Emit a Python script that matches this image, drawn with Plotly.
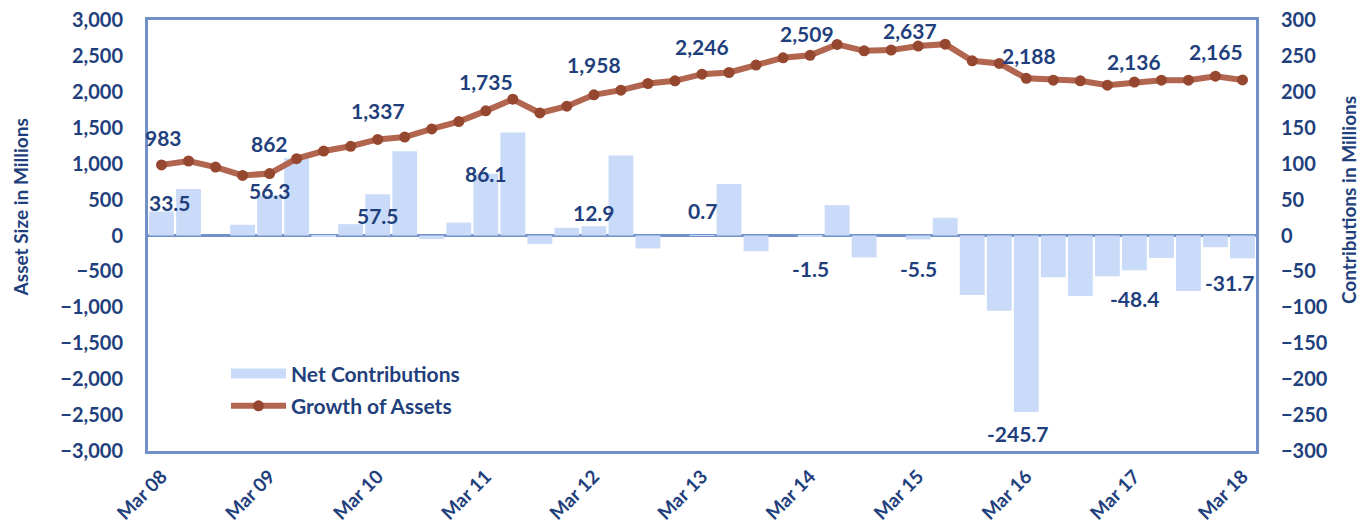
import plotly.graph_objects as go

years = ["08", "09", "10", "11", "12", "13", "14", "15", "16", "17", "18"]
months = ["Mar", "Jun", "Sep", "Dec"]
quarters = []
for y in years:
    for m in months:
        quarters.append(f"{m} {y}")
quarters = quarters[:41]

asset_size = [983, 1037, 953, 837, 862, 1070, 1176, 1242, 1337, 1371, 1483, 1586,
              1735, 1897, 1706, 1800, 1958, 2023, 2116, 2153, 2246, 2269, 2372, 2474,
              2509, 2660, 2571, 2581, 2637, 2664, 2432, 2395, 2188, 2162, 2153, 2093,
              2136, 2162, 2162, 2218, 2165]

net_contrib = [33.5, 64.6, 0.0, 14.9, 56.3, 107.4, -2.0, 15.8, 57.5, 117.2, -5.0, 18.0,
               86.1, 143.3, -12.0, 10.7, 12.9, 111.2, -18.0, 0.0, 0.7, 71.6, -21.9, 0.0,
               -1.5, 42.3, -30.5, 0.0, -5.5, 24.7, -82.8, -104.6, -245.7, -58.1, -84.2, -56.7,
               -48.4, -31.2, -77.2, -16.3, -31.7]

tick_labels = [f"Mar {y}" for y in years]
labeled_idx = list(range(0, 41, 4))

# label offsets (pixels) for data labels
line_label_dy = [27, 30, 29, 29, 30, 28, 22, 16, 23, 21, 28]
line_label_dx = [2, 0, 0, 0, 0, 0, -3, -8, 3, 0, -26]
bar_label_dy = [9, 5, -21, 0, 14, 25, 32, 29, 22, 28, 24]
bar_label_dx = [8, 0, 0, 0, 0, 0, 0, 0, -8, 0, -13]

NAVY = "#1F3F7D"
FRAME = "#7391C9"
BAR = "#C9DBF8"
LINE = "#B2654F"
MARK = "#96472F"
FONT = "Lato"

fig = go.Figure()
fig.add_trace(go.Bar(
    x=quarters, y=net_contrib, name="Net Contributions",
    marker=dict(color=BAR, line=dict(width=0)), yaxis="y",
    showlegend=False, legendgroup="a",
))
# legend entry for bars (wide swatch like the original)
fig.add_trace(go.Scatter(
    x=[None], y=[None], name="Net Contributions", mode="lines",
    line=dict(color=BAR, width=14), yaxis="y", legendgroup="a",
))
fig.add_trace(go.Scatter(
    x=quarters, y=asset_size, name="Growth of Assets", mode="lines+markers",
    line=dict(color=LINE, width=6), marker=dict(color=MARK, size=11),
    yaxis="y2", legendgroup="b",
))

lab_font = dict(family=FONT, size=21, color=NAVY, weight="bold")
annotations = []
for k, i in enumerate(labeled_idx):
    annotations.append(dict(
        x=quarters[i], y=asset_size[i], xref="x", yref="y2",
        text=f"{asset_size[i]:,}", showarrow=False,
        yanchor="middle", xanchor="center",
        yshift=line_label_dy[k], xshift=line_label_dx[k], font=lab_font,
    ))
    v = net_contrib[i]
    dy = bar_label_dy[k] if v >= 0 else -bar_label_dy[k]
    annotations.append(dict(
        x=quarters[i], y=v, xref="x", yref="y",
        text=f"{v}", showarrow=False,
        yanchor="middle", xanchor="center",
        yshift=dy, xshift=bar_label_dx[k], font=lab_font,
    ))

titlefont = dict(family=FONT, size=19, color=NAVY, weight="bold")
annotations.append(dict(text="Asset Size in Millions", xref="paper", yref="paper",
                        x=-0.1152, y=0.566, xanchor="center", yanchor="middle",
                        textangle=-90, showarrow=False, font=titlefont))
annotations.append(dict(text="Contributions in Millions", xref="paper", yref="paper",
                        x=1.083, y=0.582, xanchor="center", yanchor="middle",
                        textangle=-90, showarrow=False, font=titlefont))

tickfont = dict(family=FONT, size=20, color=NAVY, weight="bold")

fig.update_layout(
    width=1369, height=531,
    margin=dict(l=140, r=121, t=12, b=88),
    paper_bgcolor="white", plot_bgcolor="white",
    bargap=0.08,
    showlegend=True,
    legend=dict(x=0.0704, y=0.2264, xanchor="left", yanchor="top",
                font=dict(family=FONT, size=21, color=NAVY, weight="bold"),
                bgcolor="rgba(0,0,0,0)", itemwidth=55, traceorder="grouped",
                tracegroupgap=2),
    xaxis=dict(
        type="category", range=[-0.5, 40.5], automargin=False,
        tickmode="array", tickvals=[quarters[i] for i in labeled_idx], ticktext=tick_labels,
        tickangle=-45, tickfont=dict(family=FONT, size=19, color=NAVY, weight="bold"),
        ticklabelstandoff=4,
        showline=True, linecolor=FRAME, linewidth=3, mirror=True,
        showgrid=False, ticks="",
    ),
    yaxis=dict(
        side="right", range=[-300, 300], dtick=50, tick0=0, automargin=False,
        tickfont=tickfont, showgrid=False,
        showline=True, linecolor=FRAME, linewidth=3, mirror=True,
        zeroline=True, zerolinecolor=FRAME, zerolinewidth=3,
        ticklabelstandoff=18, ticklabeloverflow="allow",
    ),
    yaxis2=dict(
        side="left", overlaying="y", range=[-3000, 3000], dtick=500, tick0=0,
        automargin=False,
        tickformat=",", tickfont=tickfont, showgrid=False, zeroline=False,
        ticklabelstandoff=24, ticklabeloverflow="allow",
    ),
    annotations=annotations,
)

fig.write_html("out.html")
